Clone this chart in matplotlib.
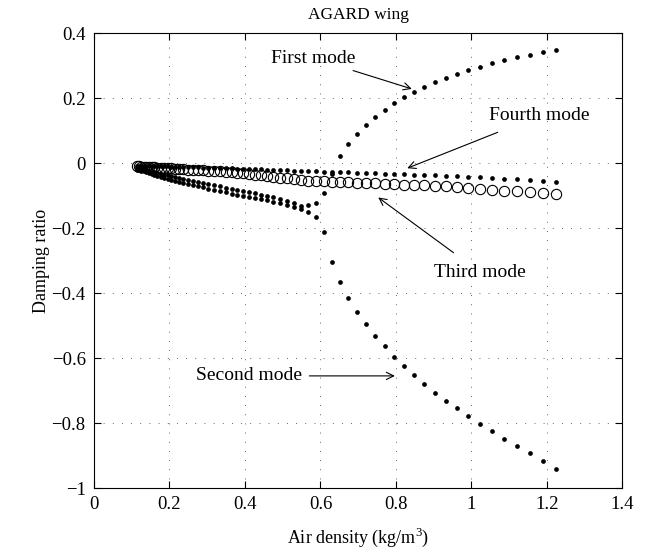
import matplotlib
matplotlib.use("Agg")
import matplotlib.pyplot as plt

plt.rcParams['font.family'] = ['Liberation Serif', 'DejaVu Serif']
plt.rcParams['mathtext.fontset'] = 'custom'
plt.rcParams['mathtext.rm'] = 'Liberation Serif'

# air density at each computed flight condition (kg/m^3)
density = [0.114, 0.119, 0.125, 0.132, 0.138, 0.145, 0.153, 0.160, 0.168, 0.177,
           0.186, 0.195, 0.205, 0.215, 0.226, 0.237, 0.249, 0.262, 0.275, 0.288,
           0.303, 0.318, 0.334, 0.350, 0.365, 0.380, 0.395, 0.410, 0.426, 0.442,
           0.458, 0.475, 0.493, 0.511, 0.530, 0.549, 0.568, 0.588, 0.609, 0.630,
           0.652, 0.674, 0.697, 0.721, 0.745, 0.770, 0.795, 0.821, 0.848, 0.875,
           0.904, 0.933, 0.962, 0.992, 1.023, 1.055, 1.087, 1.120, 1.154, 1.189,
           1.225]

first_mode = [-0.015, -0.016, -0.018, -0.020, -0.022, -0.024, -0.026, -0.028, -0.031, -0.033,
              -0.036, -0.038, -0.041, -0.043, -0.046, -0.049, -0.052, -0.055, -0.058, -0.061,
              -0.065, -0.068, -0.072, -0.076, -0.079, -0.082, -0.086, -0.089, -0.093, -0.097,
              -0.101, -0.105, -0.110, -0.116, -0.123, -0.131, -0.129, -0.122, -0.091, -0.035,
              0.022, 0.058, 0.089, 0.117, 0.141, 0.163, 0.184, 0.202, 0.219, 0.234,
              0.248, 0.262, 0.275, 0.286, 0.296, 0.307, 0.316, 0.325, 0.333, 0.341,
              0.348]

second_mode = [-0.020, -0.022, -0.024, -0.026, -0.028, -0.031, -0.034, -0.036, -0.039, -0.042,
               -0.046, -0.049, -0.052, -0.055, -0.058, -0.062, -0.065, -0.069, -0.072, -0.075,
               -0.079, -0.083, -0.087, -0.090, -0.094, -0.097, -0.100, -0.104, -0.108, -0.111,
               -0.115, -0.119, -0.123, -0.128, -0.135, -0.143, -0.150, -0.165, -0.211, -0.304,
               -0.366, -0.414, -0.458, -0.496, -0.532, -0.564, -0.597, -0.625, -0.653, -0.679,
               -0.707, -0.731, -0.755, -0.779, -0.803, -0.826, -0.848, -0.871, -0.893, -0.917,
               -0.941]

third_mode = [-0.010, -0.010, -0.011, -0.011, -0.012, -0.012, -0.013, -0.013, -0.014, -0.014,
              -0.015, -0.015, -0.016, -0.017, -0.018, -0.019, -0.020, -0.021, -0.022, -0.023,
              -0.024, -0.025, -0.026, -0.027, -0.029, -0.030, -0.032, -0.034, -0.036, -0.038,
              -0.040, -0.042, -0.045, -0.047, -0.050, -0.052, -0.054, -0.055, -0.056, -0.057,
              -0.058, -0.059, -0.060, -0.061, -0.063, -0.064, -0.066, -0.067, -0.068, -0.069,
              -0.071, -0.072, -0.075, -0.078, -0.080, -0.083, -0.085, -0.087, -0.089, -0.092,
              -0.094]

fourth_mode = [-0.008, -0.008, -0.008, -0.009, -0.009, -0.009, -0.009, -0.010, -0.010, -0.010,
               -0.010, -0.010, -0.011, -0.011, -0.012, -0.012, -0.012, -0.013, -0.013, -0.014,
               -0.014, -0.014, -0.015, -0.015, -0.016, -0.017, -0.017, -0.018, -0.019, -0.019,
               -0.020, -0.021, -0.022, -0.023, -0.024, -0.025, -0.025, -0.026, -0.027, -0.028,
               -0.029, -0.029, -0.030, -0.031, -0.032, -0.033, -0.034, -0.035, -0.036, -0.037,
               -0.038, -0.040, -0.041, -0.042, -0.044, -0.046, -0.048, -0.050, -0.052, -0.055,
               -0.0575]

x_ticks = [0, 0.2, 0.4, 0.6, 0.8, 1.0, 1.2, 1.4]
x_labels = ['0', '0.2', '0.4', '0.6', '0.8', '1', '1.2', '1.4']
y_ticks = [-1, -0.8, -0.6, -0.4, -0.2, 0, 0.2, 0.4]
y_labels = ['\u22121', '\u22120.8', '\u22120.6', '\u22120.4', '\u22120.2', '0', '0.2', '0.4']

# annotation text, arrow head (xy) and text anchor (xytext) in data units
notes = [
    ('First mode', (0.842, 0.228), (0.692, 0.323), 'right'),
    ('Fourth mode', (0.830, -0.016), (1.179, 0.145), 'center'),
    ('Third mode', (0.753, -0.106), (1.023, -0.336), 'center'),
    ('Second mode', (0.797, -0.655), (0.552, -0.655), 'right'),
]

fig = plt.figure(figsize=(6.49, 5.52), dpi=100)
ax = fig.add_axes([0.1448, 0.1159, 0.8143, 0.8243])

dot = dict(ls='none', marker='o', ms=3.4, mfc='k', mec='k', mew=0)
ax.plot(density, first_mode, **dot)
ax.plot(density, second_mode, **dot)
ax.plot(density, fourth_mode, **dot)
ax.plot(density, third_mode, ls='none', marker='o', ms=7.4, mfc='none', mec='k', mew=0.8)

for label, head, tail, ha in notes:
    shrink = 3 if ha == 'right' else 10
    ax.annotate(label, xy=head, xytext=tail, ha=ha, va='center', fontsize=14,
                arrowprops=dict(arrowstyle='->', lw=0.8, color='k', shrinkA=shrink, shrinkB=0,
                                mutation_scale=13))

ax.set_xlim(0, 1.4)
ax.set_ylim(-1, 0.4)
ax.set_xticks(x_ticks)
ax.set_xticklabels(x_labels)
ax.set_yticks(y_ticks)
ax.set_yticklabels(y_labels)
ax.tick_params(direction='in', length=5, width=0.8, top=True, right=True, labelsize=13.5, pad=6)
for s in ax.spines.values():
    s.set_linewidth(0.8)
ax.grid(True, color='#333333', lw=0.6, linestyle=(0, (1, 10)))

ax.set_title('AGARD wing', fontsize=12.5, pad=10)
ax.set_xlabel('Air density (kg/m$^3$)', fontsize=13, labelpad=9)
ax.set_ylabel('Damping ratio', fontsize=13, labelpad=1)

fig.savefig('out.png', dpi=100)
